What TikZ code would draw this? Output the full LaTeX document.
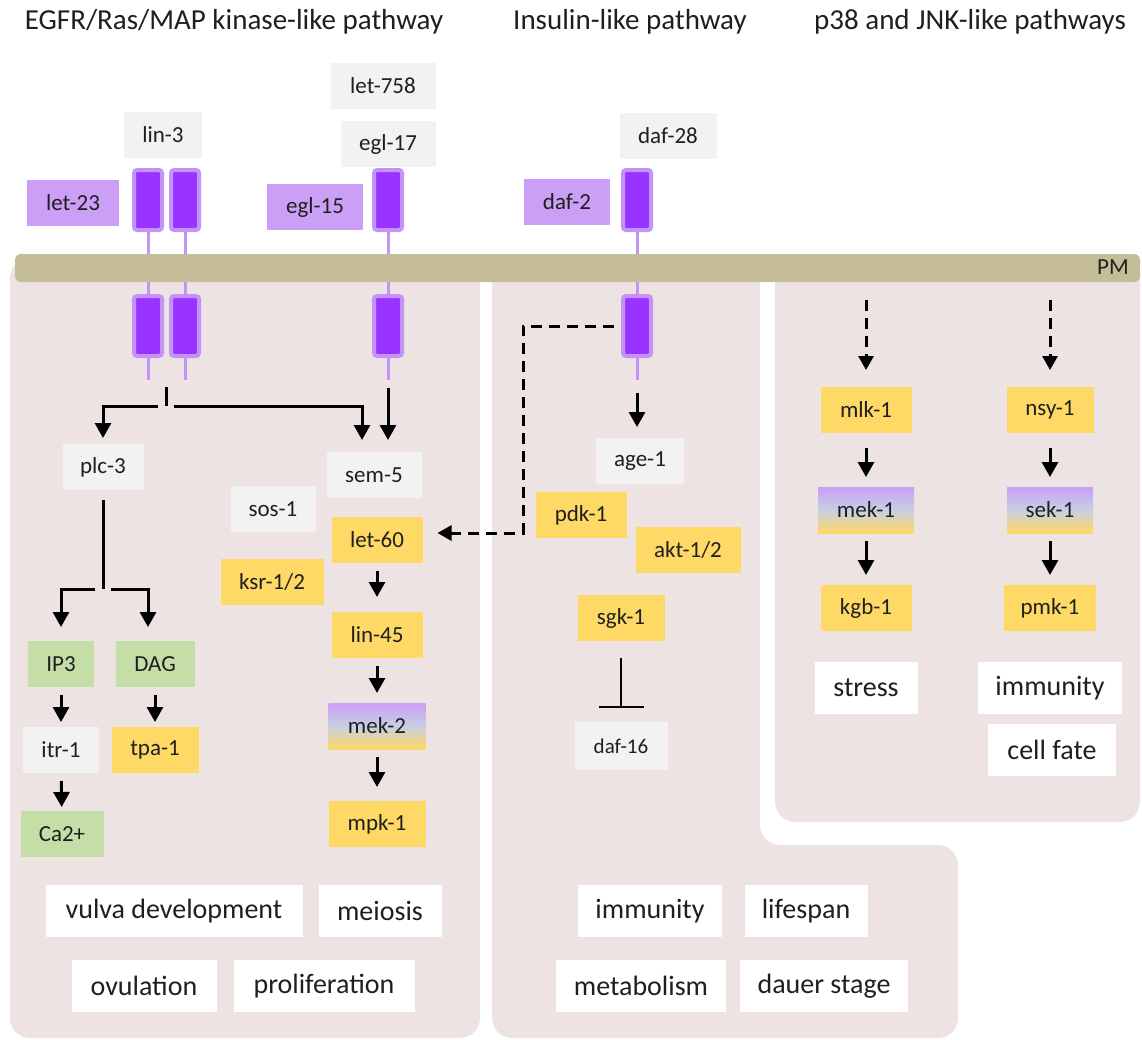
\documentclass[tikz,border=0pt]{standalone}
\usepackage{fontspec}
\setmainfont{Carlito}
\usepackage{xcolor}
\usetikzlibrary{arrows.meta}
\definecolor{panelpink}{HTML}{EEE3E3}
\definecolor{pmtan}{HTML}{C4BD97}
\definecolor{ligandgray}{HTML}{F2F2F2}
\definecolor{kinyellow}{HTML}{FFD966}
\definecolor{msggreen}{HTML}{C5DDA6}
\definecolor{reclilac}{HTML}{CB9FF6}
\definecolor{recouter}{HTML}{C393F5}
\definecolor{recinner}{HTML}{9933FF}
\definecolor{mapblue}{HTML}{C8CFE4}
\tikzset{%
    box/.style={inner sep=0pt,outer sep=0pt,shape=rectangle,minimum height=46pt,text=black!88,font=\fontsize{23}{27}\selectfont},
    ligand/.style={box,fill=ligandgray},
    kinase/.style={box,fill=kinyellow},
    messenger/.style={box,fill=msggreen},
    reclabel/.style={box,fill=reclilac},
    mapkk/.style={box,top color=reclilac,bottom color=kinyellow,middle color=mapblue},
    outcome/.style={box,fill=white,minimum height=52pt,font=\fontsize{28}{33}\selectfont},
    title/.style={inner sep=0pt,text=black!88,font=\fontsize{29}{34}\selectfont},
    receptor/.style={shape=rectangle,draw=recouter,fill=recinner,line width=4pt,rounded corners=3pt,minimum width=28pt,minimum height=60pt,inner sep=0pt,outer sep=0pt},
    stem/.style={draw=recouter,line width=3pt},
    signal/.style={->,line width=3pt,shorten <=8pt,shorten >=10pt},
    faint signal/.style={->,line width=3pt,dash pattern=on 11pt off 7pt,>={Triangle[length=14pt,width=15pt]}},
    inhibit/.style={-{Bar[width=45pt]},line width=2.4pt,shorten <=17pt,shorten >=14pt},
}
\begin{document}
\begin{tikzpicture}[x=1pt,y=-1pt,>={Triangle[length=15pt,width=16pt]}]
        \useasboundingbox (0,0) rectangle (1142,1039);
        % compartments
        \fill[panelpink,rounded corners=20pt] (10,258) rectangle (480,1038);
        \fill[panelpink,rounded corners=20pt] (492,258) -- (760,258) -- (760,845) -- (958,845) -- (958,1038) -- (492,1038) -- cycle;
        \fill[panelpink,rounded corners=20pt] (775,258) rectangle (1140,822);

        \node[title] (egfrtitle) at (234,22) {EGFR/Ras/MAP kinase-like pathway};
        \node[title] (institle) at (630,22) {Insulin-like pathway};
        \node[title] (jnktitle) at (970,22) {p38 and JNK-like pathways};

        % receptors
        \node[receptor] (lin3outA) at (148,200) {};
        \node[receptor] (lin3outB) at (185,200) {};
        \node[receptor] (egl17out) at (388,200) {};
        \node[receptor] (daf2out) at (637,200) {};
        \node[receptor] (lin3inA) at (148,326) {};
        \node[receptor] (lin3inB) at (185,326) {};
        \node[receptor] (egl17in) at (388,326) {};
        \node[receptor] (daf2in) at (637,326) {};
        \draw[stem] (lin3outA) -- (lin3inA);
        \draw[stem] (lin3outB) -- (lin3inB);
        \draw[stem] (egl17out) -- (egl17in);
        \draw[stem] (daf2out) -- (daf2in);
        \draw[stem] (lin3inA.south) -- ++(0,24);
        \draw[stem] (lin3inB.south) -- ++(0,24);
        \draw[stem] (egl17in.south) -- ++(0,24);
        \draw[stem] (daf2in.south) -- ++(0,24);

        \fill[pmtan,rounded corners=6pt] (15,254) rectangle (1140,282);
        \node[box] (pm) at (1113,267) {PM};

        \node[ligand,minimum width=105pt] (let758) at (383,86) {let-758};
        \node[ligand,minimum width=95pt] (egl17) at (388,144) {egl-17};
        \node[ligand,minimum width=78pt] (lin3) at (163,135) {lin-3};
        \node[ligand,minimum width=97pt] (daf28) at (668,136) {daf-28};
        \node[reclabel,minimum width=92pt] (let23) at (73,203) {let-23};
        \node[reclabel,minimum width=96pt] (egl15) at (315,207) {egl-15};
        \node[reclabel,minimum width=86pt] (daf2) at (567,202) {daf-2};

        % EGFR/Ras/MAPK
        \node[ligand,minimum width=81pt] (plc3) at (103,467) {plc-3};
        \node[ligand,minimum width=95pt] (sem5) at (374,475) {sem-5};
        \node[ligand,minimum width=85pt] (sos1) at (273,509) {sos-1};
        \node[kinase,minimum width=91pt] (let60) at (377,540) {let-60};
        \node[kinase,minimum width=103pt] (ksr) at (272,582) {ksr-1/2};
        \node[kinase,minimum width=91pt] (lin45) at (377,635) {lin-45};
        \node[mapkk,minimum width=97pt] (mek2) at (377,726) {mek-2};
        \node[kinase,minimum width=97pt] (mpk1) at (377,824) {mpk-1};
        \node[messenger,minimum width=66pt] (ip3) at (61,664) {IP3};
        \node[messenger,minimum width=79pt] (dag) at (155,664) {DAG};
        \node[ligand,minimum width=76pt] (itr1) at (61,750) {itr-1};
        \node[kinase,minimum width=87pt] (tpa1) at (155,750) {tpa-1};
        \node[messenger,minimum width=83pt] (ca) at (62,834) {Ca2+};

        \node[outcome,minimum width=257pt] (vulva) at (174,911) {vulva development};
        \node[outcome,minimum width=123pt] (meiosis) at (380,911) {meiosis};
        \node[outcome,minimum width=145pt] (ovulation) at (144,986) {ovulation};
        \node[outcome,minimum width=181pt] (prolif) at (324,986) {proliferation};

        \coordinate (lin3fork) at (166,406);
        \draw[line width=3pt] (166,387) -- (lin3fork);
        \draw[signal,shorten >=6pt] (lin3fork) -| (plc3.north);
        \draw[signal,shorten >=12pt] (lin3fork) -| ([xshift=-12pt]sem5.north);
        \draw[signal,shorten <=32pt,shorten >=12pt] (egl17in.south) -- (egl17in.south |- sem5.north);

        \coordinate (plc3fork) at (103,589);
        \draw[line width=3pt,shorten <=10pt] (plc3.south) -- (plc3fork);
        \draw[signal,shorten >=14pt] (plc3fork) -| (ip3.north);
        \draw[signal,shorten >=14pt] (plc3fork) -| ([xshift=-7pt]dag.north);
        \draw[signal,shorten >=5pt] (ip3) -- (itr1);
        \draw[signal,shorten >=5pt] (dag) -- (tpa1);
        \draw[signal,shorten >=4pt] (itr1) -- (ca);
        \draw[signal,shorten >=15pt] (let60) -- (lin45);
        \draw[signal] (lin45) -- (mek2);
        \draw[signal,shorten >=14pt] (mek2) -- (mpk1);

        % insulin
        \node[ligand,minimum width=88pt] (age1) at (640,461) {age-1};
        \node[kinase,minimum width=91pt] (pdk1) at (581,515) {pdk-1};
        \node[kinase,minimum width=105pt] (akt) at (688,550) {akt-1/2};
        \node[kinase,minimum width=87pt] (sgk1) at (621,618) {sgk-1};
        \node[ligand,minimum width=93pt,minimum height=48pt,font=\fontsize{21}{25}\selectfont] (daf16) at (621,746) {daf-16};

        \node[outcome,minimum width=144pt] (insimmunity) at (650,911) {immunity};
        \node[outcome,minimum width=123pt] (lifespan) at (806,911) {lifespan};
        \node[outcome,minimum width=170pt] (metabolism) at (641,986) {metabolism};
        \node[outcome,minimum width=168pt] (dauer) at (824,986) {dauer stage};

        \draw[signal,shorten <=37pt,shorten >=11pt] (daf2in.south) -- (daf2in.south |- age1.north);
        \draw[inhibit] (sgk1) -- (daf16);
        \coordinate (dafbend) at (523,533);
        \draw[faint signal,shorten >=15pt] ([xshift=-9pt]daf2in.west) -| (dafbend) -- (let60.east |- dafbend);

        % p38 / JNK
        \node[kinase,minimum width=91pt] (mlk1) at (866,410) {mlk-1};
        \node[kinase,minimum width=87pt] (nsy1) at (1050,410) {nsy-1};
        \node[mapkk,minimum width=96pt] (mek1) at (866,510) {mek-1};
        \node[mapkk,minimum width=86pt] (sek1) at (1050,510) {sek-1};
        \node[kinase,minimum width=91pt] (kgb1) at (866,608) {kgb-1};
        \node[kinase,minimum width=92pt] (pmk1) at (1050,608) {pmk-1};

        \node[outcome,minimum width=103pt] (stress) at (866,688) {stress};
        \node[outcome,minimum width=144pt] (jnkimmunity) at (1050,688) {immunity};
        \node[outcome,minimum width=128pt] (cellfate) at (1052,750) {cell fate};

        \coordinate (mlktop) at (866,300);
        \coordinate (nsytop) at (1050,300);
        \draw[faint signal,shorten >=17pt] (mlktop) -- (mlk1);
        \draw[faint signal,shorten >=17pt] (nsytop) -- (nsy1);
        \draw[signal,shorten <=15pt] (mlk1) -- (mek1);
        \draw[signal,shorten <=15pt] (nsy1) -- (sek1);
        \draw[signal] (mek1) -- (kgb1);
        \draw[signal] (sek1) -- (pmk1);
    \end{tikzpicture}
\end{document}
